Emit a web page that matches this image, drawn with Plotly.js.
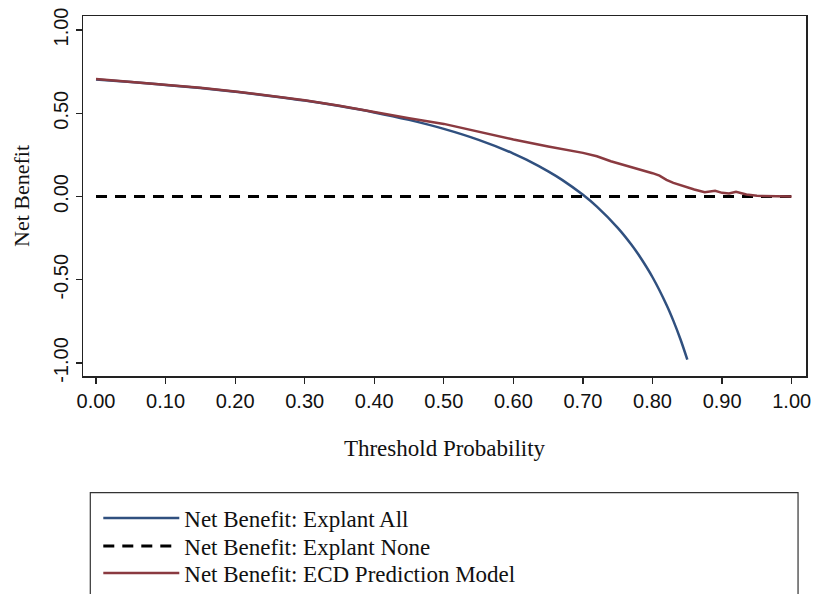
<!DOCTYPE html>
<html>
<head>
<meta charset="utf-8">
<script src="https://cdn.plot.ly/plotly-3.0.1.min.js"></script>
<style>html,body{margin:0;padding:0;background:#fff;}</style>
</head>
<body>
<div id="chart" style="width:813px;height:594px;"></div>
<script>
// Threshold probabilities and net benefit readings
const allX = [0.00, 0.05, 0.10, 0.15, 0.20, 0.25, 0.30, 0.35, 0.40, 0.45, 0.50, 0.55, 0.60, 0.62, 0.65, 0.67, 0.70, 0.72, 0.75, 0.77, 0.78, 0.80, 0.82, 0.83, 0.84, 0.85];
const allY = [0.703, 0.687, 0.670, 0.651, 0.629, 0.604, 0.576, 0.543, 0.505, 0.460, 0.406, 0.340, 0.258, 0.218, 0.151, 0.100, 0.010, -0.061, -0.188, -0.291, -0.350, -0.485, -0.650, -0.747, -0.856, -0.980];

const noneX = [0.00, 1.00];
const noneY = [0.00, 0.00];

const modelX = [0.00, 0.05, 0.10, 0.15, 0.20, 0.25, 0.30, 0.35, 0.40, 0.45, 0.50, 0.55, 0.60, 0.65, 0.70, 0.72, 0.74, 0.76, 0.78, 0.80, 0.81, 0.82, 0.83, 0.84, 0.86, 0.875, 0.89, 0.90, 0.91, 0.92, 0.935, 0.95, 0.97, 1.00];
const modelY = [0.705, 0.689, 0.672, 0.653, 0.631, 0.606, 0.578, 0.545, 0.507, 0.470, 0.436, 0.388, 0.342, 0.300, 0.262, 0.242, 0.212, 0.188, 0.165, 0.140, 0.125, 0.100, 0.082, 0.068, 0.042, 0.026, 0.034, 0.022, 0.018, 0.028, 0.012, 0.004, 0.001, 0.000];

const xTicks = [0, 0.1, 0.2, 0.3, 0.4, 0.5, 0.6, 0.7, 0.8, 0.9, 1.0];
const xTickText = ["0.00", "0.10", "0.20", "0.30", "0.40", "0.50", "0.60", "0.70", "0.80", "0.90", "1.00"];
const yTicks = [-1, -0.5, 0, 0.5, 1];
const yTickText = ["-1.00", "-0.50", "0.00", "0.50", "1.00"];

const serif = "Liberation Serif, Times New Roman, serif";
const sans = "Liberation Sans, Arial, Helvetica, sans-serif";

const traces = [
  {x: allX, y: allY, mode: "lines", name: "Net Benefit: Explant All", legend: "legend",
   line: {color: "#30507f", width: 2.5, shape: "spline"}},
  {x: noneX, y: noneY, mode: "lines", name: "Net Benefit: Explant None", legend: "legend2",
   line: {color: "#000000", width: 3, dash: "11px,8px"}},
  {x: modelX, y: modelY, mode: "lines", name: "Net Benefit: ECD Prediction Model", legend: "legend3",
   line: {color: "#8a3a40", width: 2.5}}
];

// plot area spans 82.7..806 px horizontally and 16..376 px vertically
function legendAt(py) {
  return {
    xref: "paper", yref: "paper",
    x: (98 - 82.7) / 723.3, y: (376 - py) / 360, xanchor: "left", yanchor: "middle",
    bgcolor: "rgba(0,0,0,0)", borderwidth: 0,
    font: {family: serif, size: 23, color: "#111"},
    itemwidth: 76
  };
}

const layout = {
  width: 813, height: 594, autosize: false,
  paper_bgcolor: "#ffffff", plot_bgcolor: "#ffffff",
  margin: {l: 83, r: 7, t: 16, b: 218, autoexpand: false},
  showlegend: true,
  xaxis: {
    range: [-0.0187, 1.0206], tickvals: xTicks, ticktext: xTickText,
    ticks: "outside", ticklen: 6, tickwidth: 1.2, tickcolor: "#222",
    showline: true, linecolor: "#222", linewidth: 1.5, mirror: true,
    showgrid: false, zeroline: false,
    tickfont: {family: sans, size: 20, color: "#111"},
    title: {text: "Threshold Probability", font: {family: serif, size: 23, color: "#111"}, standoff: 29}
  },
  yaxis: {
    range: [-1.078, 1.084], tickvals: yTicks, ticktext: yTickText,
    ticks: "outside", ticklen: 6, tickwidth: 1.2, tickcolor: "#222",
    showline: true, linecolor: "#222", linewidth: 1.5, mirror: true,
    showgrid: false, zeroline: false, tickangle: -90,
    tickfont: {family: sans, size: 20, color: "#111"},
    title: {text: "Net Benefit", font: {family: serif, size: 22, color: "#111"}, standoff: 14}
  },
  legend: legendAt(518),
  legend2: legendAt(546),
  legend3: legendAt(573),
  shapes: [
    {type: "rect", xref: "paper", yref: "paper", x0: 0.0101, x1: 0.989, y0: -0.324, y1: -0.70,
     line: {color: "#333", width: 1.2}, fillcolor: "rgba(0,0,0,0)", layer: "below"}
  ]
};

Plotly.newPlot("chart", traces, layout, {displayModeBar: false, staticPlot: true});
</script>
</body>
</html>
